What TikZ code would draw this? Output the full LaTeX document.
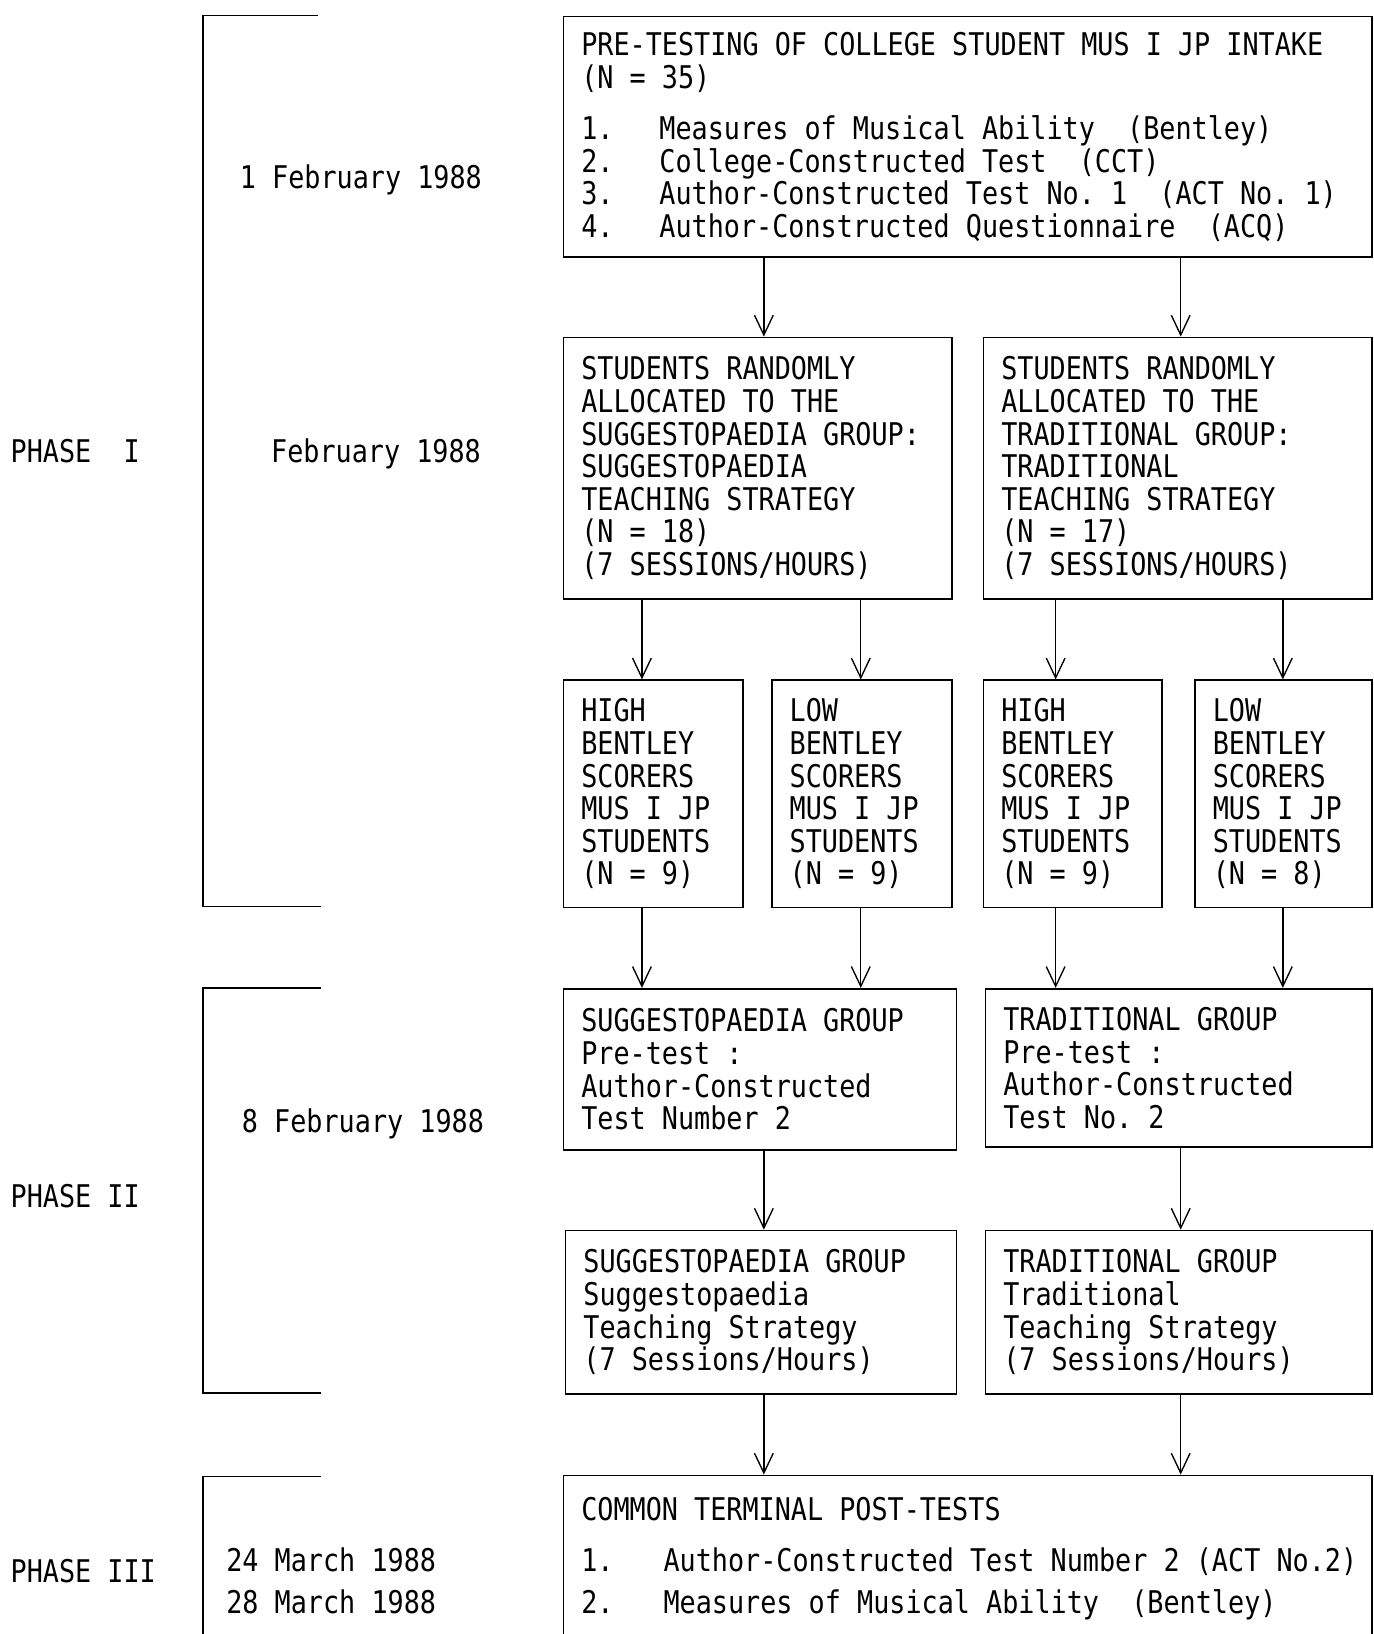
\documentclass[tikz,border=0pt]{standalone}
\usepackage{fontspec}
\newfontfamily\typewr[FakeStretch=0.857]{DejaVu Sans Mono}
\usetikzlibrary{arrows.meta}

% fixed-pitch spaces, as on the typewriter
\newcommand{\twfont}{\typewr\fontsize{30}{31.3}\selectfont\frenchspacing}
\newcommand{\twspace}{\spaceskip=\fontcharwd\font`M\relax\xspaceskip=\spaceskip}

\tikzset{
	txt/.style={font=\twfont, inner sep=0pt},
	bx/.style={txt, draw, line width=1.6pt, anchor=north west, align=flush left, inner xsep=17pt, inner ysep=0pt,
		execute at begin node=\twspace},
	arr/.style={-{Straight Barb[length=19pt,width=18pt]}, line width=1.3pt},
	brk/.style={line width=1.6pt}
}
\newcommand{\itm}[2][75pt]{\makebox[#1][l]{#2}}

\begin{document}
\begin{tikzpicture}[x=1pt,y=-1pt]
			%%%%% START %%%%%
			\useasboundingbox (0,0) rectangle (1318,1568);
			\clip (0,0) rectangle (1318,1568);
			
			% phases and dates
			\draw[brk] (305,15) -- (195,15) -- (195,870) -- (308,870);
			\draw[brk] (308,948) -- (195,948) -- (195,1337) -- (308,1337);
			\draw[brk] (308,1417) -- (195,1417) -- (195,1590);
			
			\node[txt, anchor=base west] (ph1) at (10,444) {PHASE~ I};
			\node[txt, anchor=base west] (ph2) at (10,1159) {PHASE II};
			\node[txt, anchor=base west] (ph3) at (10,1519) {PHASE III};
			
			\node[txt, anchor=base west] (d1) at (230,181) {1 February 1988};
			\node[txt, anchor=base west] (d2) at (260,444) {February 1988};
			\node[txt, anchor=base west] (d3) at (232,1087) {8 February 1988};
			\node[txt, anchor=base west] (d4) at (217,1508) {24 March 1988};
			\node[txt, anchor=base west] (d5) at (217,1548) {28 March 1988};
			
			% boxes
			\node[bx, text width=742pt, minimum height=231pt] (pre) at (540,15) {PRE-TESTING OF COLLEGE STUDENT MUS I JP INTAKE\\(N = 35)\\[18pt]
				\itm{1.}Measures of Musical Ability~ (Bentley)\\
				\itm{2.}College-Constructed Test~ (CCT)\\
				\itm{3.}Author-Constructed Test No. 1~ (ACT No. 1)\\
				\itm{4.}Author-Constructed Questionnaire~ (ACQ)};
			
			\node[bx, text width=339pt, minimum height=251pt] (sug) at (540,323) {STUDENTS RANDOMLY\\ALLOCATED TO THE\\SUGGESTOPAEDIA GROUP:\\SUGGESTOPAEDIA\\TEACHING STRATEGY\\(N = 18)\\(7 SESSIONS/HOURS)};
			\node[bx, text width=339pt, minimum height=251pt] (trad) at (943,323) {STUDENTS RANDOMLY\\ALLOCATED TO THE\\TRADITIONAL GROUP:\\TRADITIONAL\\TEACHING STRATEGY\\(N = 17)\\(7 SESSIONS/HOURS)};
			
			\node[bx, text width=138pt, minimum height=218pt] (sh) at (540,652) {HIGH\\BENTLEY\\SCORERS\\MUS I JP\\STUDENTS\\(N = 9)};
			\node[bx, text width=139pt, minimum height=218pt] (sl) at (740,652) {LOW\\BENTLEY\\SCORERS\\MUS I JP\\STUDENTS\\(N = 9)};
			\node[bx, text width=137pt, minimum height=218pt] (th) at (943,652) {HIGH\\BENTLEY\\SCORERS\\MUS I JP\\STUDENTS\\(N = 9)};
			\node[bx, text width=136pt, minimum height=218pt] (tl) at (1146,652) {LOW\\BENTLEY\\SCORERS\\MUS I JP\\STUDENTS\\(N = 8)};
			
			\node[bx, text width=343pt, minimum height=155pt] (sugpre) at (540,948) {SUGGESTOPAEDIA GROUP\\Pre-test :\\Author-Constructed\\Test Number 2};
			\node[bx, text width=337pt, minimum height=152pt] (tradpre) at (945,948) {TRADITIONAL GROUP\\Pre-test :\\Author-Constructed\\Test No. 2};
			
			\node[bx, text width=341pt, minimum height=157pt] (sugtch) at (542,1180) {SUGGESTOPAEDIA GROUP\\Suggestopaedia\\Teaching Strategy\\(7 Sessions/Hours)};
			\node[bx, text width=337pt, minimum height=157pt] (tradtch) at (945,1180) {TRADITIONAL GROUP\\Traditional\\Teaching Strategy\\(7 Sessions/Hours)};
			
			\node[bx, text width=742pt, minimum height=160pt] (post) at (540,1415) {COMMON TERMINAL POST-TESTS\\[18pt]
				\mbox{\itm[79pt]{1.}Author-Constructed Test Number 2 (ACT No.2)}\\[9pt]
				\mbox{\itm[79pt]{2.}Measures of Musical Ability~ (Bentley)}};
			
			% arrows
			\foreach \c/\x in {cA/733, cB/1133, c1/616, c2/826, c3/1013, c4/1231}
				\coordinate (\c) at (\x,0);
			
			\draw[arr] (pre.south -| cA) -- (sug.north -| cA);
			\draw[arr] (pre.south -| cB) -- (trad.north -| cB);
			
			\draw[arr] (sug.south -| c1) -- (sh.north -| c1);
			\draw[arr] (sug.south -| c2) -- (sl.north -| c2);
			\draw[arr] (trad.south -| c3) -- (th.north -| c3);
			\draw[arr] (trad.south -| c4) -- (tl.north -| c4);
			
			\draw[arr] (sh.south -| c1) -- (sugpre.north -| c1);
			\draw[arr] (sl.south -| c2) -- (sugpre.north -| c2);
			\draw[arr] (th.south -| c3) -- (tradpre.north -| c3);
			\draw[arr] (tl.south -| c4) -- (tradpre.north -| c4);
			
			\draw[arr] (sugpre.south -| cA) -- (sugtch.north -| cA);
			\draw[arr] (tradpre.south -| cB) -- (tradtch.north -| cB);
			
			\draw[arr] (sugtch.south -| cA) -- (post.north -| cA);
			\draw[arr] (tradtch.south -| cB) -- (post.north -| cB);
			
			%%%%% END %%%%%
\end{tikzpicture}
\end{document}
